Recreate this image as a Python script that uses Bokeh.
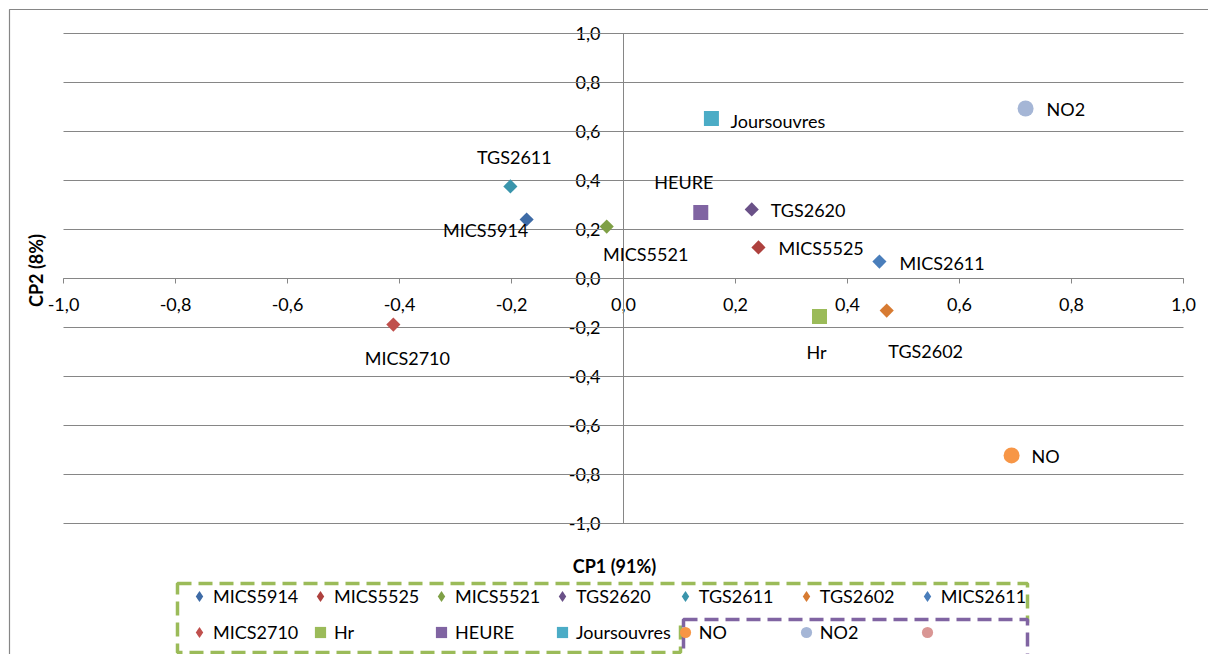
import math
from bokeh.plotting import figure
from bokeh.models import (FixedTicker, CustomJSTickFormatter, ColumnDataSource, Legend,
                          LegendItem, BoxAnnotation, PolyAnnotation, Label, Range1d)
from bokeh.embed import file_html
from bokeh.resources import INLINE

# ---------------- data ----------------
names = ["MICS5914", "MICS5525", "MICS5521", "TGS2620", "TGS2611", "TGS2602", "MICS2611",
         "MICS2710", "Hr", "HEURE", "Joursouvres", "NO", "NO2"]
cp1 = [-0.173, 0.241, -0.030, 0.229, -0.202, 0.470, 0.457,
       -0.411, 0.350, 0.138, 0.157, 0.693, 0.718]
cp2 = [0.241, 0.127, 0.212, 0.282, 0.376, -0.131, 0.069,
       -0.188, -0.155, 0.269, 0.653, -0.722, 0.694]
x_ticks = [-1.0, -0.8, -0.6, -0.4, -0.2, 0.0, 0.2, 0.4, 0.6, 0.8, 1.0]
y_ticks = [-1.0, -0.8, -0.6, -0.4, -0.2, 0.0, 0.2, 0.4, 0.6, 0.8, 1.0]
legend_names = names + [""]

# ---------------- styles ----------------
colors = ["#3E6BA6", "#AE413E", "#7FA046", "#6A5188", "#3A95AC", "#D77B32", "#4A7EBB",
          "#C0504D", "#9BBB59", "#8064A2", "#4BACC6", "#F79646", "#A5B6D6", "#D99694"]
kinds = ["d"] * 8 + ["s"] * 3 + ["c"] * 2 + ["c"]
label_dx = [-41, 20, 39, 19, 4, 39, 20, 14, -3, -17, 19, 20, 21]
label_dy = [11, 1, 27, 1, -29, 40, 1, 33, 36, -31, 2, 1, 1]
label_align = ["center", "left", "center", "left", "center", "center", "left",
               "center", "center", "center", "left", "left", "left"]

FONT = "Lato"
FS = "18px"
GRAY = "#868686"

W, H = 1208, 654
PX, PY = 560.0, 245.0
X0_PX, Y1_PX = 63, 33
x_start = -1 - X0_PX / PX
x_end = x_start + W / PX
y_end = 1 + Y1_PX / PY
y_start = y_end - H / PY


def X(px):
    return x_start + px / PX


def Y(py):
    return y_end - py / PY


p = figure(width=W, height=H, x_range=Range1d(x_start, x_end), y_range=Range1d(y_start, y_end),
           output_backend="svg", toolbar_location=None,
           min_border_left=0, min_border_right=0, min_border_top=0, min_border_bottom=0)
p.outline_line_color = None
p.background_fill_color = "white"
p.border_fill_color = "white"

fmt = CustomJSTickFormatter(code="return tick.toFixed(1).replace('.', ',');")
for ax, ticks, standoff in ((p.xaxis[0], x_ticks, 14), (p.yaxis[0], y_ticks, 18)):
    ax.fixed_location = 0
    ax.bounds = (-1, 1)
    ax.ticker = FixedTicker(ticks=ticks)
    ax.formatter = fmt
    ax.axis_line_color = GRAY
    ax.major_tick_line_color = GRAY
    ax.major_tick_out = 5
    ax.major_tick_in = 0
    ax.minor_tick_line_color = None
    ax.major_label_text_font = FONT
    ax.major_label_text_font_size = FS
    ax.major_label_text_color = "#000000"
    ax.major_label_standoff = standoff
    ax.level = "underlay"

p.xgrid.visible = False
p.ygrid[0].ticker = FixedTicker(ticks=y_ticks)
p.ygrid[0].grid_line_color = GRAY
p.ygrid[0].cross_bounds = (-1, 1)

# chart-area border
p.add_layout(BoxAnnotation(left=X(9), top=Y(9), right=X(1500), bottom=Y(900),
                           fill_alpha=0, line_color=GRAY, line_alpha=1, line_width=1.2))

# points
for i, n in enumerate(names):
    src = ColumnDataSource(dict(x=[cp1[i]], y=[cp2[i]]))
    if kinds[i] == "d":
        p.scatter("x", "y", source=src, marker="square", angle=math.pi / 4, size=10,
                  fill_color=colors[i], line_color=None)
    elif kinds[i] == "s":
        p.scatter("x", "y", source=src, marker="square", size=15,
                  fill_color=colors[i], line_color=None)
    else:
        p.scatter("x", "y", source=src, marker="circle", size=16,
                  fill_color=colors[i], line_color=None)

lab = ColumnDataSource(dict(x=cp1, y=cp2, t=names, dx=label_dx, dy=label_dy, al=label_align))
p.text("x", "y", text="t", source=lab, x_offset="dx", y_offset="dy", text_align="al",
       text_baseline="middle", text_font={"value": FONT}, text_font_size=FS, text_color="#000000")

# axis titles
p.add_layout(Label(x=X(35), y=Y(270), text="CP2 (8%)", angle=math.pi / 2, text_align="center",
                   text_baseline="middle", text_font=FONT, text_font_size=FS,
                   text_font_style="bold", text_color="#000000"))
p.add_layout(Label(x=X(614), y=Y(565), text="CP1 (91%)", text_align="center",
                   text_baseline="middle", text_font=FONT, text_font_size=FS,
                   text_font_style="bold", text_color="#000000"))

# decoration boxes around the legend
p.add_layout(PolyAnnotation(xs=[X(177), X(1027), X(1027), X(680), X(680), X(177)],
                            ys=[Y(583), Y(583), Y(622), Y(622), Y(652), Y(652)],
                            fill_alpha=0, line_color="#9BBB59", line_alpha=1,
                            line_width=3.5, line_dash="14 7"))
p.add_layout(BoxAnnotation(left=X(683), right=X(1027), top=Y(619), bottom=Y(720),
                           fill_color="white", fill_alpha=1, line_color="#8064A2",
                           line_alpha=1, line_width=3.5, line_dash="14 7"))

# legend (proxy renderers, their single point lies outside the view)
nan = float("nan")
items = []
for i, n in enumerate(legend_names):
    mk = {"d": "diamond", "s": "square", "c": "circle"}[kinds[i]]
    r = p.scatter(x=[nan], y=[nan], marker=mk, fill_color=colors[i], line_color=None, size=10)
    items.append(LegendItem(label=n, renderers=[r]))
legend = Legend(items=items, location=(185, 4), orientation="horizontal", ncols=7,
                glyph_width=28, glyph_height=36, label_height=36, label_width=93,
                label_standoff=0, spacing=0, padding=0, margin=0,
                background_fill_alpha=0, border_line_color=None,
                label_text_font=FONT, label_text_font_size=FS, label_text_color="#000000")
p.add_layout(legend)

open("out.html", "w").write(file_html(p, INLINE))
